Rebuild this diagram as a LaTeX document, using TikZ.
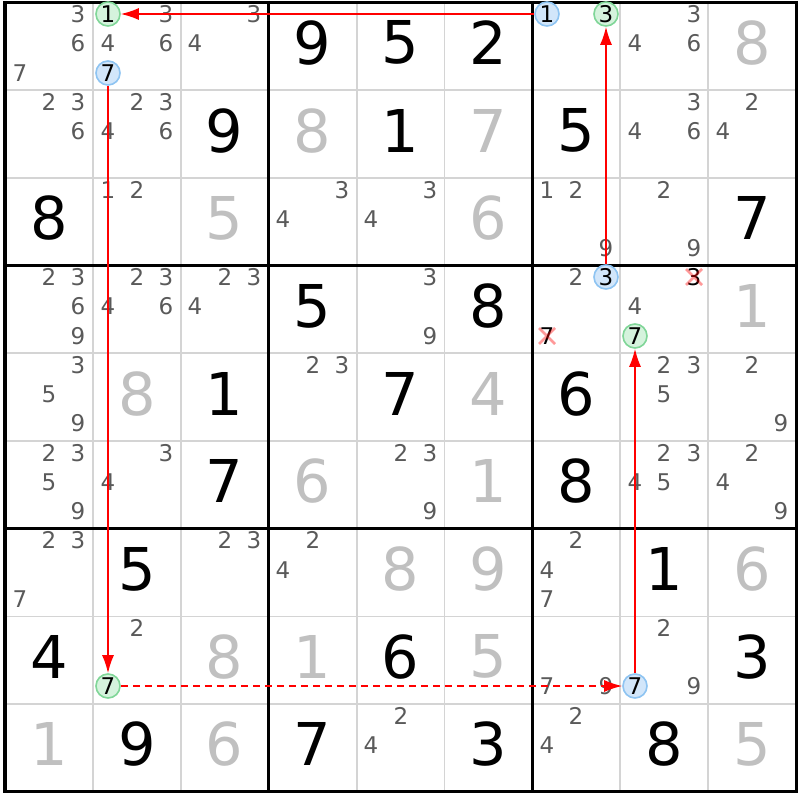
\documentclass[tikz,border=0pt]{standalone}
\usepackage{xcolor}
\usepackage{fontspec}
\setmainfont{DejaVu Sans}
\usepackage{tikz}
\usetikzlibrary{arrows.meta}

\definecolor{candgray}{HTML}{5A5A5A}
\definecolor{solvedgray}{HTML}{C0C0C0}
\definecolor{gridgray}{HTML}{D4D4D4}
\definecolor{ringblue}{HTML}{D2E6FA}
\definecolor{ringblueline}{HTML}{8EC4F2}
\definecolor{ringgreen}{HTML}{D5F3DD}
\definecolor{ringgreenline}{HTML}{80D698}

\tikzset{
  cand/.style={text=candgray,font=\fontsize{23}{23}\selectfont},
  given/.style={text=black,font=\fontsize{59}{59}\selectfont},
  solved/.style={text=solvedgray,font=\fontsize{59}{59}\selectfont},
  bluering/.style={circle,minimum size=24pt,fill=ringblue,draw=ringblueline,line width=1.6pt},
  greenring/.style={circle,minimum size=24pt,fill=ringgreen,draw=ringgreenline,line width=1.6pt},
  link/.style={red,line width=1.6pt,-{Latex[length=18pt,width=12pt]}},
  weaklink/.style={link,dash pattern=on 7pt off 5pt},
  strike/.style={red,opacity=0.4,line width=2.8pt}
}

\newcommand{\candpos}[3]{%
  \pgfmathsetmacro{\cpx}{round(5+(#2-1)*87.9+(mod(#3-1,3)+0.5)*29.3)}%
  \pgfmathsetmacro{\cpy}{-round(2.5+(#1-1)*87.7+(int((#3-1)/3)+0.5)*29.23-3)}}
\newcommand{\cand}[3]{\candpos{#1}{#2}{#3}\node[cand] (c#1#2#3) at (\cpx,\cpy) {#3};}
\newcommand{\ringcand}[4]{\candpos{#1}{#2}{#3}%
  \node[#4] (r#1#2#3) at (\cpx,\cpy) {};
  \node[cand,text=black] (c#1#2#3) at (\cpx,\cpy) {#3};}
\newcommand{\crosscand}[3]{\candpos{#1}{#2}{#3}%
  \node[cand,text=black] (c#1#2#3) at (\cpx,\cpy) {#3};
  \draw[strike] (\cpx-8,\cpy-8) -- (\cpx+8,\cpy+8) (\cpx-8,\cpy+8) -- (\cpx+8,\cpy-8);}
\newcommand{\bigdigit}[4]{%
  \pgfmathsetmacro{\cpx}{5+(#2-0.5)*87.9}%
  \pgfmathsetmacro{\cpy}{-(2.5+(#1-0.5)*87.7-3.5)}%
  \node[#4] (v#1#2) at (\cpx,\cpy) {#3};}
\newcommand{\given}[3]{\bigdigit{#1}{#2}{#3}{given}}
\newcommand{\solved}[3]{\bigdigit{#1}{#2}{#3}{solved}}

\begin{document}
\begin{tikzpicture}[x=1pt,y=1pt]
\tikzstyle{every node}+=[inner sep=0pt]
\fill[white] (0,0) rectangle (800,-800);
\useasboundingbox (0,0) rectangle (800,-800);
\foreach \i in {1,2,4,5,7,8} {
  \draw[gridgray,line width=1.8pt] ({5+\i*87.9},-2.5) -- ({5+\i*87.9},-791.8);
  \draw[gridgray,line width=1.8pt] (5,{-2.5-\i*87.7}) -- (796.1,{-2.5-\i*87.7});
}
\foreach \i in {0,3,6,9} {
  \draw[black,line width=3.2pt] ({5+\i*87.9},-0.9) -- ({5+\i*87.9},-793.4);
  \draw[black,line width=3.2pt] (3.4,{-2.5-\i*87.7}) -- (797.7,{-2.5-\i*87.7});
}

\cand{1}{1}{3} \cand{1}{1}{6} \cand{1}{1}{7}
\ringcand{1}{2}{1}{greenring} \cand{1}{2}{3} \cand{1}{2}{4} \cand{1}{2}{6} \ringcand{1}{2}{7}{bluering}
\cand{1}{3}{3} \cand{1}{3}{4}
\given{1}{4}{9} \given{1}{5}{5} \given{1}{6}{2}
\ringcand{1}{7}{1}{bluering} \ringcand{1}{7}{3}{greenring}
\cand{1}{8}{3} \cand{1}{8}{4} \cand{1}{8}{6}
\solved{1}{9}{8}

\cand{2}{1}{2} \cand{2}{1}{3} \cand{2}{1}{6}
\cand{2}{2}{2} \cand{2}{2}{3} \cand{2}{2}{4} \cand{2}{2}{6}
\given{2}{3}{9} \solved{2}{4}{8} \given{2}{5}{1} \solved{2}{6}{7} \given{2}{7}{5}
\cand{2}{8}{3} \cand{2}{8}{4} \cand{2}{8}{6}
\cand{2}{9}{2} \cand{2}{9}{4}

\given{3}{1}{8}
\cand{3}{2}{1} \cand{3}{2}{2}
\solved{3}{3}{5}
\cand{3}{4}{3} \cand{3}{4}{4}
\cand{3}{5}{3} \cand{3}{5}{4}
\solved{3}{6}{6}
\cand{3}{7}{1} \cand{3}{7}{2} \cand{3}{7}{9}
\cand{3}{8}{2} \cand{3}{8}{9}
\given{3}{9}{7}

\cand{4}{1}{2} \cand{4}{1}{3} \cand{4}{1}{6} \cand{4}{1}{9}
\cand{4}{2}{2} \cand{4}{2}{3} \cand{4}{2}{4} \cand{4}{2}{6}
\cand{4}{3}{2} \cand{4}{3}{3} \cand{4}{3}{4}
\given{4}{4}{5}
\cand{4}{5}{3} \cand{4}{5}{9}
\given{4}{6}{8}
\cand{4}{7}{2} \ringcand{4}{7}{3}{bluering} \crosscand{4}{7}{7}
\crosscand{4}{8}{3} \cand{4}{8}{4} \ringcand{4}{8}{7}{greenring}
\solved{4}{9}{1}

\cand{5}{1}{3} \cand{5}{1}{5} \cand{5}{1}{9}
\solved{5}{2}{8} \given{5}{3}{1}
\cand{5}{4}{2} \cand{5}{4}{3}
\given{5}{5}{7} \solved{5}{6}{4} \given{5}{7}{6}
\cand{5}{8}{2} \cand{5}{8}{3} \cand{5}{8}{5}
\cand{5}{9}{2} \cand{5}{9}{9}

\cand{6}{1}{2} \cand{6}{1}{3} \cand{6}{1}{5} \cand{6}{1}{9}
\cand{6}{2}{3} \cand{6}{2}{4}
\given{6}{3}{7} \solved{6}{4}{6}
\cand{6}{5}{2} \cand{6}{5}{3} \cand{6}{5}{9}
\solved{6}{6}{1} \given{6}{7}{8}
\cand{6}{8}{2} \cand{6}{8}{3} \cand{6}{8}{4} \cand{6}{8}{5}
\cand{6}{9}{2} \cand{6}{9}{4} \cand{6}{9}{9}

\cand{7}{1}{2} \cand{7}{1}{3} \cand{7}{1}{7}
\given{7}{2}{5}
\cand{7}{3}{2} \cand{7}{3}{3}
\cand{7}{4}{2} \cand{7}{4}{4}
\solved{7}{5}{8} \solved{7}{6}{9}
\cand{7}{7}{2} \cand{7}{7}{4} \cand{7}{7}{7}
\given{7}{8}{1} \solved{7}{9}{6}

\given{8}{1}{4}
\cand{8}{2}{2} \ringcand{8}{2}{7}{greenring}
\solved{8}{3}{8} \solved{8}{4}{1} \given{8}{5}{6} \solved{8}{6}{5}
\cand{8}{7}{7} \cand{8}{7}{9}
\cand{8}{8}{2} \ringcand{8}{8}{7}{bluering} \cand{8}{8}{9}
\given{8}{9}{3}

\solved{9}{1}{1} \given{9}{2}{9} \solved{9}{3}{6} \given{9}{4}{7}
\cand{9}{5}{2} \cand{9}{5}{4}
\given{9}{6}{3}
\cand{9}{7}{2} \cand{9}{7}{4}
\given{9}{8}{8} \solved{9}{9}{5}

\draw[link] (r171) -- (r121);
\draw[link] (r473) -- (r173);
\draw[link] (r127) -- (r827);
\draw[weaklink] (r827) -- (r887);
\draw[link] (r887) -- (r487);
\end{tikzpicture}
\end{document}
